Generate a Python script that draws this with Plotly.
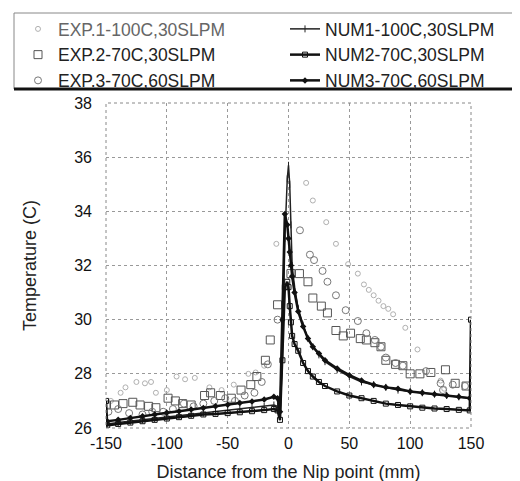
import plotly.graph_objects as go

# ---- data ----
x_num = [-150, -149, -140, -130, -120, -110, -100, -90, -80, -70, -60, -50, -40, -30, -20, -12, -9, -7, -5, -3, -1,
         0, 1, 2, 3, 5, 8, 12, 16, 20, 25, 30, 40, 50, 60, 70, 80, 90, 100, 110, 120, 130, 140, 149, 150]

num1 = [26.15, 26.15, 26.2, 26.25, 26.3, 26.35, 26.4, 26.45, 26.5, 26.55, 26.6, 26.65, 26.7, 26.75, 26.8, 26.85, 26.8, 26.4, 28.5, 33.0, 35.2,
        35.7, 35.0, 33.5, 32.0, 31.2, 30.4, 29.8, 29.3, 29.0, 28.7, 28.45, 28.15, 27.9, 27.7, 27.6, 27.5, 27.4, 27.35, 27.3, 27.25, 27.2, 27.15, 27.1, 27.1]

num2 = [27.0, 26.1, 26.15, 26.2, 26.25, 26.3, 26.35, 26.4, 26.45, 26.5, 26.52, 26.55, 26.58, 26.62, 26.66, 26.7, 26.65, 26.3, 28.5, 31.2, 31.4,
        31.2, 30.5, 29.9, 29.4, 29.1, 28.85, 28.4, 28.1, 27.9, 27.7, 27.55, 27.35, 27.2, 27.1, 27.0, 26.9, 26.85, 26.8, 26.75, 26.72, 26.7, 26.67, 26.65, 30.0]

num3 = [26.25, 26.25, 26.3, 26.37, 26.43, 26.5, 26.56, 26.62, 26.68, 26.74, 26.8, 26.86, 26.92, 26.98, 27.05, 27.15, 27.1, 26.6, 30.0, 33.9, 33.5,
        33.0, 32.5, 32.0, 31.6, 31.0, 30.3, 29.75, 29.3, 29.0, 28.75, 28.5, 28.2, 27.95, 27.75, 27.6, 27.5, 27.45, 27.35, 27.3, 27.25, 27.2, 27.15, 27.1, 27.1]

exp1_x = [-146, -138, -134, -125, -118, -113, -109, -100, -92, -85, -77, -65, -55, -45, -33, -27, -20, -10,
          14.5, 20, 31, 39, 49, 57, 62, 66, 70, 74, 78, 82, 86, 96, 106, 125, 128]
exp1_y = [27.0, 27.3, 27.5, 27.7, 27.65, 27.7, 27.3, 27.4, 27.9, 27.8, 27.85, 27.5, 27.4, 27.6, 28.0, 28.05, 28.3, 32.8,
          35.05, 34.4, 33.6, 32.8, 32.05, 31.7, 31.3, 31.1, 30.9, 30.7, 30.5, 30.4, 30.2, 29.7, 28.9, 27.75, 27.45]

exp2_x = [-150, -143, -136, -128, -122, -115, -109, -99, -93, -87, -80, -69, -64, -56, -47, -39, -31, -26, -19, -15, -9,
          2, 9, 16, 20, 27, 32, 39, 45, 51, 59, 64, 71, 76, 80, 88, 94, 100, 108, 117, 129, 137, 146]
exp2_y = [26.85, 26.85, 26.9, 26.95, 26.85, 26.8, 26.75, 27.1, 27.0, 26.9, 26.85, 27.2, 27.3, 27.2, 27.1, 27.4, 27.6, 27.9, 28.5, 29.25, 30.55,
          31.7, 31.7, 31.4, 30.8, 30.5, 30.25, 29.6, 29.4, 29.5, 29.3, 29.25, 29.15, 29.0, 28.5, 28.35, 28.3, 28.0, 28.0, 28.05, 28.15, 27.65, 27.55]

exp3_x = [-148, -140, -131, -120, -112, -103, -95, -86, -78, -70, -61, -52, -44, -36, -28, -22, -17, -9,
          9.4, 17.6, 21, 28, 32, 39, 47, 57, 64, 71, 76, 80, 88, 94, 113, 125, 127, 135, 145]
exp3_y = [26.6, 26.7, 26.55, 26.5, 26.6, 26.6, 26.7, 26.9, 26.8, 26.9, 27.0, 27.1, 27.0, 27.2, 27.3, 27.7, 28.35, 30.0,
          33.3, 32.4, 32.2, 31.8, 31.4, 30.9, 30.35, 29.95, 29.5, 29.25, 29.0, 28.6, 28.4, 28.3, 28.1, 27.65, 27.4, 27.6, 27.55]

x_ticks = [-150, -100, -50, 0, 50, 100, 150]
y_ticks = [26, 28, 30, 32, 34, 36, 38]

FONT = "Liberation Sans, Arial, sans-serif"
W, H = 520, 481

fig = go.Figure()

fig.add_trace(go.Scatter(x=exp1_x, y=exp1_y, mode="markers",
                         name="<span style='color:#666'>EXP.1-100C,30SLPM</span>", legend="legend",
                         marker=dict(symbol="circle-open", size=5, color="#b0b0b0", line=dict(width=1))))
fig.add_trace(go.Scatter(x=exp2_x, y=exp2_y, mode="markers", name="EXP.2-70C,30SLPM", legend="legend",
                         marker=dict(symbol="square-open", size=8, color="#555", line=dict(width=1))))
fig.add_trace(go.Scatter(x=exp3_x, y=exp3_y, mode="markers", name="EXP.3-70C,60SLPM", legend="legend",
                         marker=dict(symbol="circle-open", size=7, color="#777", line=dict(width=1))))
fig.add_trace(go.Scatter(x=x_num, y=num1, mode="lines+markers", name="NUM1-100C,30SLPM", legend="legend2",
                         line=dict(color="#222", width=1.5),
                         marker=dict(symbol="line-ns-open", size=5, color="#222", line=dict(width=1))))
fig.add_trace(go.Scatter(x=x_num, y=num2, mode="lines+markers", name="NUM2-70C,30SLPM", legend="legend2",
                         line=dict(color="#111", width=2.5),
                         marker=dict(symbol="square-open", size=5, color="#111", line=dict(width=1))))
fig.add_trace(go.Scatter(x=x_num, y=num3, mode="lines+markers", name="NUM3-70C,60SLPM", legend="legend2",
                         line=dict(color="#111", width=2.5),
                         marker=dict(symbol="diamond", size=5, color="#111")))

leg_common = dict(xanchor="left", y=1 - 3 / H, yanchor="top",
                  font=dict(size=17.5, family=FONT, color="#222"),
                  bgcolor="rgba(0,0,0,0)", borderwidth=0, traceorder="normal",
                  itemwidth=30, tracegroupgap=0)

fig.update_layout(
    template="none",
    width=W, height=H,
    margin=dict(l=0, r=0, t=0, b=0, autoexpand=False),
    paper_bgcolor="white", plot_bgcolor="white",
    font=dict(family=FONT, color="#111"),
    showlegend=True,
    legend=dict(x=10 / W, **leg_common),
    legend2=dict(x=277 / W, **leg_common),
    xaxis=dict(domain=[98 / W, 463 / W], range=[-150, 150], tickvals=x_ticks, ticktext=[str(v) for v in x_ticks],
               automargin=False,
               showgrid=True, gridcolor="#999", griddash="dot", gridwidth=1,
               zeroline=False, showline=False, ticks="",
               tickfont=dict(size=16, family=FONT, color="#111"), ticklabelstandoff=4,
               title=dict(text="Distance from the Nip point (mm)", font=dict(size=18, family=FONT, color="#222"), standoff=14)),
    yaxis=dict(domain=[(H - 420) / H, (H - 95) / H], range=[26, 38], tickvals=y_ticks, ticktext=[str(v) for v in y_ticks],
               automargin=False,
               showgrid=True, gridcolor="#999", griddash="dot", gridwidth=1,
               zeroline=False, showline=False, ticks="",
               tickfont=dict(size=16, family=FONT, color="#111"), ticklabelstandoff=13,
               title=dict(text="Temperature (C)", font=dict(size=18, family=FONT, color="#222"), standoff=32)),
)

# plot frame (dotted) and legend box
fig.add_shape(type="rect", xref="x domain", yref="y domain", x0=0, x1=1, y0=0, y1=1,
              line=dict(color="#888", width=1, dash="dot"))
fig.add_shape(type="rect", xref="paper", yref="paper", x0=6 / W, x1=515 / W, y0=(H - 81) / H, y1=(H - 5) / H,
              line=dict(color="#888", width=1), layer="below")
fig.add_shape(type="line", xref="paper", yref="paper", x0=6 / W, x1=515 / W, y0=(H - 81) / H, y1=(H - 81) / H,
              line=dict(color="#111", width=3))

fig.write_html("out.html")
